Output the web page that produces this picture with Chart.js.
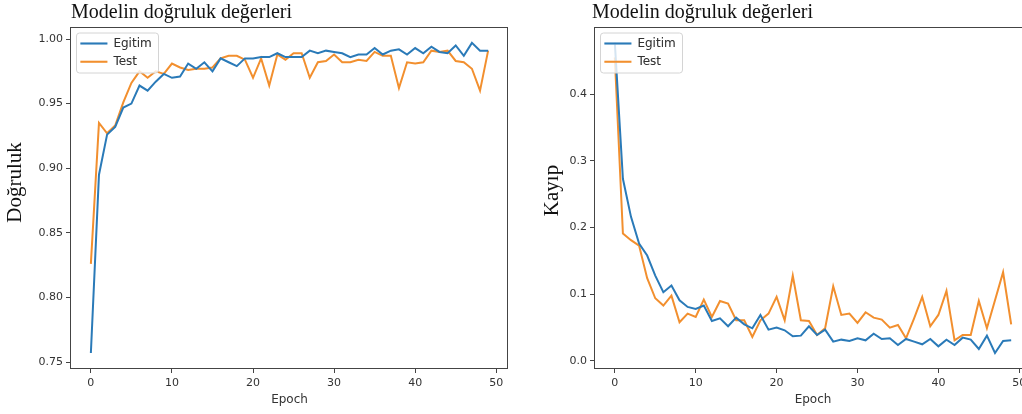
<!DOCTYPE html>
<html>
<head>
<meta charset="utf-8">
<script src="https://cdn.jsdelivr.net/npm/chart.js@4.4.0/dist/chart.umd.min.js"></script>
<style>
  html, body { margin: 0; padding: 0; background: #fff; overflow: hidden; }
  body { width: 1022px; height: 414px; position: relative; }
  .box { position: absolute; top: 0; height: 414px; }
  .title { position: absolute; top: -1px; z-index: 2; font-family: 'Liberation Serif', serif; font-size: 20px; line-height: 24px; color: #111; white-space: nowrap; }
</style>
</head>
<body>
<div class="box" style="left:0;width:520px"><canvas id="accChart"></canvas></div>
<div class="box" style="left:522px;width:521px"><canvas id="lossChart"></canvas></div>
<div class="title" style="left:71px">Modelin doğruluk değerleri</div>
<div class="title" style="left:592px">Modelin doğruluk değerleri</div>
<script>
// Data
const epochs = [0, 1, 2, 3, 4, 5, 6, 7, 8, 9, 10, 11, 12, 13, 14, 15, 16, 17, 18, 19,
  20, 21, 22, 23, 24, 25, 26, 27, 28, 29, 30, 31, 32, 33, 34, 35, 36, 37, 38, 39,
  40, 41, 42, 43, 44, 45, 46, 47, 48, 49];

const accTrain = [0.757, 0.895, 0.926, 0.932, 0.947, 0.950, 0.964, 0.960, 0.967, 0.973,
  0.970, 0.971, 0.981, 0.977, 0.982, 0.975, 0.985, 0.982, 0.979, 0.985,
  0.985, 0.986, 0.986, 0.989, 0.986, 0.986, 0.986, 0.991, 0.989, 0.991,
  0.990, 0.989, 0.986, 0.988, 0.988, 0.993, 0.988, 0.991, 0.992, 0.988,
  0.993, 0.989, 0.994, 0.990, 0.989, 0.995, 0.987, 0.997, 0.991, 0.991];

const accTest = [0.826, 0.935, 0.927, 0.933, 0.951, 0.966, 0.975, 0.970, 0.975, 0.973,
  0.981, 0.978, 0.976, 0.977, 0.977, 0.978, 0.985, 0.987, 0.987, 0.984,
  0.970, 0.985, 0.964, 0.988, 0.984, 0.989, 0.989, 0.970, 0.982, 0.983,
  0.988, 0.982, 0.982, 0.984, 0.983, 0.990, 0.987, 0.987, 0.962, 0.982,
  0.981, 0.982, 0.991, 0.990, 0.991, 0.983, 0.982, 0.977, 0.960, 0.991];

const lossTrain = [0.477, 0.273, 0.216, 0.176, 0.158, 0.128, 0.103, 0.113, 0.091, 0.081,
  0.078, 0.083, 0.060, 0.064, 0.052, 0.065, 0.055, 0.049, 0.069, 0.047,
  0.050, 0.046, 0.037, 0.038, 0.052, 0.039, 0.047, 0.029, 0.032, 0.030,
  0.034, 0.031, 0.041, 0.033, 0.034, 0.024, 0.033, 0.029, 0.025, 0.033,
  0.022, 0.032, 0.024, 0.035, 0.032, 0.018, 0.038, 0.012, 0.030, 0.031];

const lossTest = [0.455, 0.191, 0.181, 0.173, 0.124, 0.094, 0.083, 0.098, 0.058, 0.071,
  0.066, 0.092, 0.066, 0.090, 0.086, 0.061, 0.061, 0.036, 0.061, 0.071,
  0.096, 0.061, 0.128, 0.061, 0.060, 0.039, 0.049, 0.112, 0.069, 0.071,
  0.057, 0.073, 0.065, 0.062, 0.050, 0.054, 0.034, 0.064, 0.096, 0.052,
  0.069, 0.105, 0.031, 0.039, 0.039, 0.090, 0.049, 0.091, 0.133, 0.055];

const epochTicks = [0, 10, 20, 30, 40, 50];
const accTicks = [0.75, 0.80, 0.85, 0.90, 0.95, 1.00];
const lossTicks = [0.0, 0.1, 0.2, 0.3, 0.4];

// Styles
const blue = '#2a7ab8';
const orange = '#f28f2e';
const axisColor = '#444';
const textColor = '#333';
const sans = 'DejaVu Sans';

// legend box + axes frame, drawn above the lines like matplotlib
const framePlugin = {
  id: 'frame',
  afterLayout(chart, args, opts) {
    const lg = chart.legend;
    const a = chart.chartArea;
    lg.left = a.left + 3;
    lg.top = a.top + 4;
    lg.right = lg.left + lg.width;
    lg.bottom = lg.top + lg.height;
    // y label sits a bit above the middle of the axis in the picture
    const y = chart.scales.y;
    y.top -= opts.labelShift;
    y.bottom -= opts.labelShift;
  },
  afterDatasetsDraw(chart) {
    const ctx = chart.ctx;
    const a = chart.chartArea;
    ctx.save();
    ctx.beginPath();
    ctx.roundRect(a.left + 5.5, a.top + 6, 82, 40, 3);
    ctx.fillStyle = 'rgba(255,255,255,0.8)';
    ctx.fill();
    ctx.strokeStyle = '#d4d4d4';
    ctx.lineWidth = 1;
    ctx.stroke();
    ctx.restore();
    chart.legend.draw();
    ctx.save();
    ctx.strokeStyle = axisColor;
    ctx.lineWidth = 1;
    ctx.strokeRect(Math.round(a.left) - 0.5, Math.round(a.top) + 0.5,
      Math.round(a.right - a.left), Math.round(a.bottom - a.top));
    ctx.restore();
  }
};

function makeConfig(train, test, yMin, yMax, yTicks, digits, yTitle, yWidth, titlePad, shift) {
  return {
    type: 'line',
    data: {
      labels: epochs,
      datasets: [
        { label: 'Egitim', data: train, borderColor: blue, backgroundColor: blue,
          borderWidth: 2, pointRadius: 0, tension: 0 },
        { label: 'Test', data: test, borderColor: orange, backgroundColor: orange,
          borderWidth: 2, pointRadius: 0, tension: 0 },
      ],
    },
    options: {
      responsive: true,
      maintainAspectRatio: false,
      animation: false,
      events: [],
      layout: { padding: { left: 0, right: 12, top: 27, bottom: 0 } },
      plugins: {
        frame: { labelShift: shift },
        tooltip: { enabled: false },
        legend: {
          position: 'chartArea',
          align: 'start',
          labels: {
            usePointStyle: true,
            pointStyle: 'line',
            pointStyleWidth: 27,
            padding: 6.4,
            color: textColor,
            font: { family: sans, size: 12 },
          },
        },
      },
      scales: {
        x: {
          type: 'linear',
          min: -2.45,
          max: 51.45,
          afterBuildTicks: (s) => { s.ticks = epochTicks.map(v => ({ value: v })); },
          afterFit: (s) => { s.height = 46; },
          border: { display: false },
          grid: { drawOnChartArea: false, drawTicks: true, tickLength: 5, tickColor: axisColor },
          ticks: { padding: 4, color: textColor, font: { family: sans, size: 11 },
            maxRotation: 0, callback: (v) => String(v) },
          title: { display: true, text: 'Epoch', color: textColor,
            font: { family: sans, size: 12 }, padding: { top: 0, bottom: 7 } },
        },
        y: {
          min: yMin,
          max: yMax,
          afterBuildTicks: (s) => { s.ticks = yTicks.map(v => ({ value: v })); },
          afterFit: (s) => { s.width = yWidth; },
          border: { display: false },
          grid: { drawOnChartArea: false, drawTicks: true, tickLength: 5, tickColor: axisColor },
          ticks: { padding: 3, color: textColor, font: { family: sans, size: 11 },
            callback: (v) => Number(v).toFixed(digits) },
          title: { display: true, text: yTitle, color: '#111',
            font: { family: 'Liberation Serif', size: 21 }, padding: { top: titlePad, bottom: 0 } },
        },
      },
    },
    plugins: [framePlugin],
  };
}

new Chart(document.getElementById('accChart'),
  makeConfig(accTrain, accTest, 0.7454, 1.0093, accTicks, 2, 'Doğruluk', 71, 3, 15));
new Chart(document.getElementById('lossChart'),
  makeConfig(lossTrain, lossTest, -0.0105, 0.5005, lossTicks, 1, 'Kayıp', 73, 18, 7));
</script>
</body>
</html>
